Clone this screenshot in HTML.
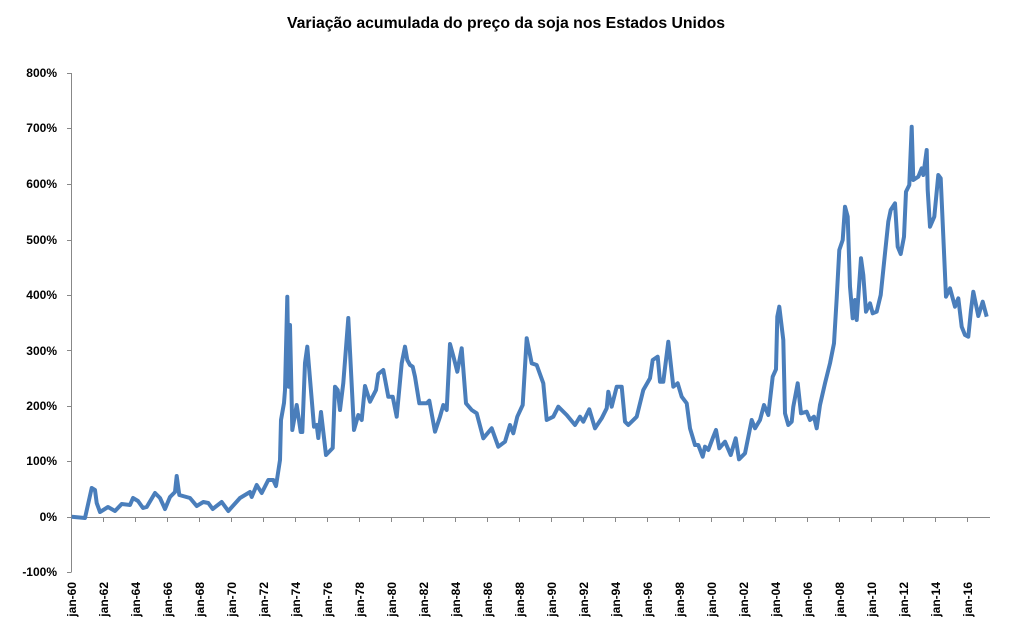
<!DOCTYPE html>
<html><head><meta charset="utf-8"><style>
body{margin:0;background:#fff;width:1013px;height:632px;overflow:hidden}
svg{display:block}
text{font-family:"Liberation Sans",Arial,sans-serif;font-weight:bold;fill:#000}
</style></head><body>
<svg width="1013" height="632" viewBox="0 0 1013 632">
<text x="506" y="28" font-size="15.8" text-anchor="middle">Variação acumulada do preço da soja nos Estados Unidos</text>
<g font-size="12" text-anchor="end">
<text x="57" y="77">800%</text><text x="57" y="132">700%</text><text x="57" y="188">600%</text>
<text x="57" y="244">500%</text><text x="57" y="299">400%</text><text x="57" y="355">300%</text>
<text x="57" y="410">200%</text><text x="57" y="465">100%</text><text x="57" y="521">0%</text>
<text x="57" y="576">-100%</text>
</g>
<g stroke="#888" stroke-width="1" fill="none">
<line x1="71.5" y1="73" x2="71.5" y2="572"/>
<line x1="71.5" y1="517.5" x2="990" y2="517.5"/>
<path d="M67 73.5H71.5M67 128.5H71.5M67 184.5H71.5M67 240.5H71.5M67 295.5H71.5M67 350.5H71.5M67 406.5H71.5M67 461.5H71.5M67 517.5H71.5M67 572.5H71.5"/>
<path d="M103.5 517V522M135.5 517V522M167.5 517V522M199.5 517V522M231.5 517V522M263.5 517V522M295.5 517V522M327.5 517V522M359.5 517V522M391.5 517V522M423.5 517V522M455.5 517V522M487.5 517V522M519.5 517V522M551.5 517V522M583.5 517V522M615.5 517V522M647.5 517V522M679.5 517V522M711.5 517V522M743.5 517V522M775.5 517V522M807.5 517V522M839.5 517V522M871.5 517V522M903.5 517V522M935.5 517V522M967.5 517V522"/>
</g>
<g font-size="12" text-anchor="end">
<text transform="translate(76,582) rotate(-90)">jan-60</text>
<text transform="translate(108,582) rotate(-90)">jan-62</text>
<text transform="translate(140,582) rotate(-90)">jan-64</text>
<text transform="translate(172,582) rotate(-90)">jan-66</text>
<text transform="translate(204,582) rotate(-90)">jan-68</text>
<text transform="translate(236,582) rotate(-90)">jan-70</text>
<text transform="translate(268,582) rotate(-90)">jan-72</text>
<text transform="translate(300,582) rotate(-90)">jan-74</text>
<text transform="translate(332,582) rotate(-90)">jan-76</text>
<text transform="translate(364,582) rotate(-90)">jan-78</text>
<text transform="translate(396,582) rotate(-90)">jan-80</text>
<text transform="translate(428,582) rotate(-90)">jan-82</text>
<text transform="translate(460,582) rotate(-90)">jan-84</text>
<text transform="translate(492,582) rotate(-90)">jan-86</text>
<text transform="translate(524,582) rotate(-90)">jan-88</text>
<text transform="translate(556,582) rotate(-90)">jan-90</text>
<text transform="translate(588,582) rotate(-90)">jan-92</text>
<text transform="translate(620,582) rotate(-90)">jan-94</text>
<text transform="translate(652,582) rotate(-90)">jan-96</text>
<text transform="translate(684,582) rotate(-90)">jan-98</text>
<text transform="translate(716,582) rotate(-90)">jan-00</text>
<text transform="translate(748,582) rotate(-90)">jan-02</text>
<text transform="translate(780,582) rotate(-90)">jan-04</text>
<text transform="translate(812,582) rotate(-90)">jan-06</text>
<text transform="translate(844,582) rotate(-90)">jan-08</text>
<text transform="translate(876,582) rotate(-90)">jan-10</text>
<text transform="translate(908,582) rotate(-90)">jan-12</text>
<text transform="translate(940,582) rotate(-90)">jan-14</text>
<text transform="translate(972,582) rotate(-90)">jan-16</text>
</g>
<polyline fill="none" stroke="#4a7ebb" stroke-width="4" stroke-linejoin="round" points="
71.7,516.7 85,518 91.7,488 95,490 96.7,503 100,512 108,507 115,511 121.7,504 130,505 133,498 138,501 143,508 146.7,507 155,493 160,498 165,509 170,497 175,492 176.7,476 179.3,495 190,498 196.7,506 203.3,502 208.3,503 212.7,509 221.7,502 228.3,511 240,498 250,492 251.7,497 256.7,485 261.7,493 268.3,480 273.3,480 276,486 280,460 281,420 284,403 285,390 287.3,296.7 288.7,386.7 290,325 292.3,430 296.7,405 300.7,432 302.3,432 305,363 307.3,346.7 314,426.7 316.7,425 318.3,438 321,412 326,455 332.7,448 335,386.7 337.7,390 340,410 343.3,383 348.3,318 354,430 358.3,415 361.7,420 365,386 370,401.7 376,390 378.3,374 383.3,370 388.3,396.7
392.7,396.7 396.7,416.7 401.7,363.3 405,346.7 407.3,360 410,365 412.7,366.7 415,376.7 419.3,403.3 426.7,403.3 429.3,400.7 435,431.7 440,416.7 443.3,405 446.7,410 450,344 453.3,356 457.3,371.7 461.7,348.3 466,403.3 471.7,410 476.7,413.3 483.3,438.3 491.7,428.3 498.3,446.7 505,441.7 510,425 513.3,433.3 517.3,416.7 522.7,405 526.7,338.3 531.7,363.3 536.7,365 543.3,383.3 546.7,420 553.3,416.7 558.3,406.7 566.7,415 575,425 580,416.7 583.3,421.7 589.3,409.3 595,428.3 601.7,418.3 606.7,408.3 608.3,391.7 611.7,406.7 616.7,386.7 621.7,386.7 625,421.7 628.3,425 636.7,416.7 643.3,390 650,378.3 652.7,360 657.7,356.7 660,381.7 663.3,381.7 668.3,341.7 673.3,386.7 677.7,383.3 681.7,396.7 686.7,403.3 690,428.3
695,445 698.3,445 702.7,456.7 705,446.7 708.3,450 713.3,436.7 716,430 719.3,448.3 725,441.7 730.7,455 735.7,438.3 739,459.3 745,453.3 751.7,420 755,428.3 760,420 764,405 768.3,415 772.7,376.7 776,369.3 777.3,316.7 779.3,306.7 783.3,340 785,413.3 788.3,425 791.7,421.7 793.3,406.7 797.7,383.3 801,413.3 806.7,411.7 810,420 814,416.7 816.7,428.3 820,405 825,383.3 830,363.3 834,343.3 836.7,298.3 839.3,250 842.7,240 845,206.7 847.7,216.7 850,286.7 852.7,318.3 855,300 856.7,320 861,258.3 863.3,275 866,311.7 870,303.3 872.7,313.3 876.7,311.7 880.7,295 885,253.3 888.3,221.7 890.7,210 895,203.3 897.7,246.7 900.7,254 904,236.7 906,191.7 909.3,185 911.7,126.7 913.3,180 918.3,176.7 921.7,168.3 923.3,175 926.7,150 927.7,190 930,226.7 934.3,216.7 938.3,175 940.7,178.3 946,296.7 950,288.3 955,306.7 958.3,298.3 961.7,326.7 965,335 968.3,336.7 971,310 973.3,291.7 978.3,316 982.7,301.7 986.7,316.7"/>
</svg>
</body></html>
